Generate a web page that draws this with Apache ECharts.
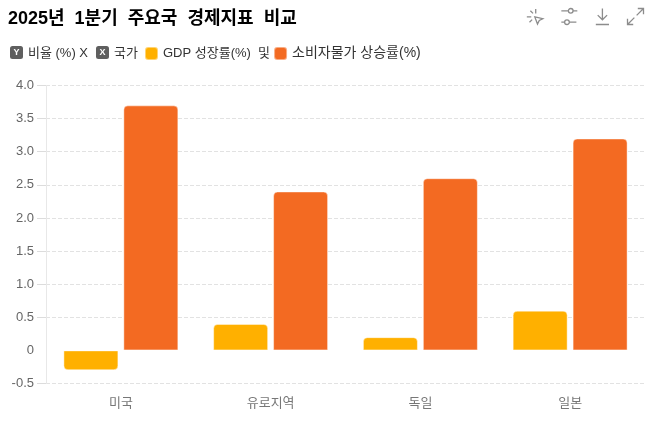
<!DOCTYPE html>
<html>
<head>
<meta charset="utf-8">
<style>html,body{margin:0;padding:0;background:#fff}#chart{width:650px;height:421px}</style>
<script src="https://cdn.jsdelivr.net/npm/echarts@6/dist/echarts.min.js"></script>
</head>
<body>
<div id="chart"></div>
<script>
const categories = ['미국', '유로지역', '독일', '일본'];
const gdpGrowth = [-0.3, 0.4, 0.2, 0.6];
const inflation = [3.7, 2.4, 2.6, 3.2];
const gridValues = [-0.5, 0.5, 1, 1.5, 2, 2.5, 3, 3.5, 4];
const gdpName = 'GDP 성장률(%)';
const cpiName = '소비자물가 상승률(%)';
const font = '"Liberation Sans", "Noto Sans CJK KR", sans-serif';

// Round only the corners away from the zero line
const rounded = v => ({
  value: v,
  itemStyle: { borderRadius: v < 0 ? [0, 0, 4, 4] : [4, 4, 0, 0] }
});

const badge = (letter, x) => ({
  type: 'group', x, y: 46,
  children: [
    { type: 'rect', shape: { x: 0, y: 0, width: 13, height: 13, r: 2.5 }, style: { fill: '#5f5f5f' } },
    { type: 'text', x: 6.5, y: 7, style: { text: letter, font: 'bold 9px ' + font, fill: '#fff', align: 'center', verticalAlign: 'middle' } }
  ]
});

const caption = (text, x) => ({
  type: 'text', x, y: 53,
  style: { text, font: '13px ' + font, fill: '#333', verticalAlign: 'middle' }
});

const tool = (title, icon) => ({ show: true, title, icon, onclick() {} });

const chart = echarts.init(document.getElementById('chart'), null, { renderer: 'canvas' });
chart.setOption({
  animation: false,
  backgroundColor: '#fff',
  title: {
    text: '2025년  1분기  주요국  경제지표  비교',
    left: 3, top: 5,
    textStyle: { fontFamily: font, fontSize: 18, fontWeight: 'bold', color: '#000' }
  },
  toolbox: {
    right: -11, top: -9,
    itemSize: 16, itemGap: 13.5,
    showTitle: false,
    iconStyle: { color: 'none', borderColor: '#8c8c8c', borderWidth: 1.3 },
    feature: {
      myClick: tool('선택', 'path://M11 6L11 1M5 3L8 6M1 10L6 10M4 16L7 13M10 10L19 12L15 14L13 18Z'),
      mySliders: tool('설정', 'path://M2 3L9 3M15 3L19 3M12 .5A2.5 2.5 0 1 0 12 5.5A2.5 2.5 0 1 0 12 .5M2 15L5 15M11 15L18 15M8 12.5A2.5 2.5 0 1 0 8 17.5A2.5 2.5 0 1 0 8 12.5'),
      myDownload: tool('저장', 'path://M9 0L9 12M4 7L9 12L14 7M2 17L16 17'),
      myExpand: tool('전체 화면', 'path://M9 8L15 2M10 2L15 2L15 7M7 10L1 16M1 11L1 16L6 16')
    }
  },
  legend: {
    data: [
      { name: gdpName, textStyle: { fontSize: 13 } },
      { name: cpiName, textStyle: { fontSize: 14 } }
    ],
    left: 139, top: 41,
    itemWidth: 13, itemHeight: 13, itemGap: 3,
    icon: 'roundRect',
    formatter: n => n === gdpName ? n + '  및' : n,
    textStyle: { fontFamily: font, color: '#333' }
  },
  grid: { left: 46, right: 5, top: 85.5, bottom: 37.5 },
  xAxis: {
    type: 'category',
    data: categories,
    axisLine: { show: false },
    axisTick: { show: false },
    axisLabel: { fontFamily: font, fontSize: 13, color: '#777', margin: 13 }
  },
  yAxis: {
    type: 'value',
    min: -0.5, max: 4, interval: 0.5,
    axisLine: { show: true, lineStyle: { color: '#e8e8e8' } },
    // the zero level carries neither a tick nor a grid line
    axisTick: { show: true, length: 9, lineStyle: { color: '#dcdcdc' }, customValues: gridValues },
    axisLabel: {
      fontFamily: font, fontSize: 13, color: '#666', margin: 12,
      formatter: v => v === 0 ? '0' : v.toFixed(1)
    },
    splitLine: { lineStyle: { color: '#e2e2e2', type: 'dashed' } }
  },
  series: [
    {
      name: gdpName, type: 'bar', barWidth: 55, barGap: '9%',
      data: gdpGrowth.map(rounded),
      itemStyle: { color: '#ffb000', borderColor: 'rgba(255,255,255,0.45)', borderWidth: 1 }
    },
    {
      name: cpiName, type: 'bar', barWidth: 55,
      data: inflation.map(rounded),
      itemStyle: { color: '#f36a22', borderColor: 'rgba(255,255,255,0.45)', borderWidth: 1 }
    }
  ],
  graphic: [
    badge('Y', 10), caption('비율 (%) X', 28),
    badge('X', 96), caption('국가', 114)
  ]
});
</script>
</body>
</html>
